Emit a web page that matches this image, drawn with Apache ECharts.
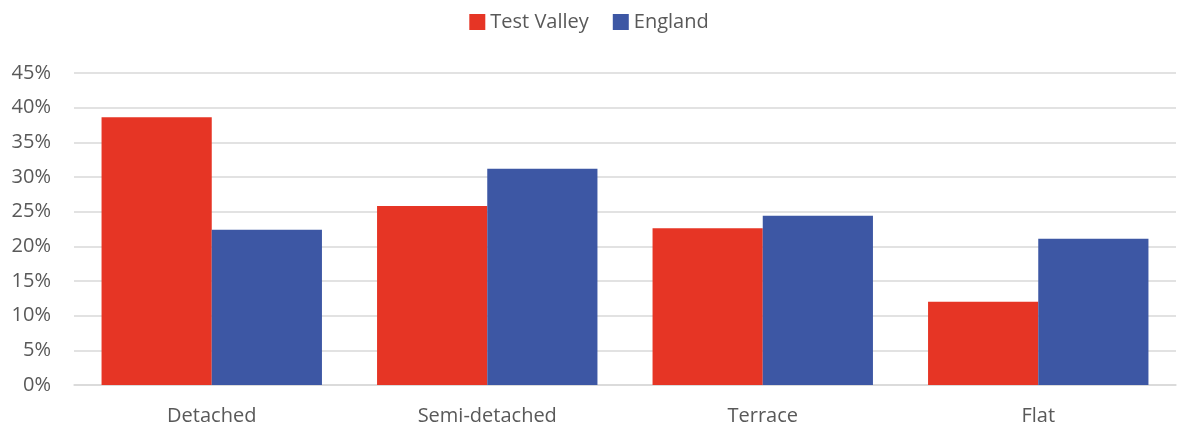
<!DOCTYPE html>
<html>
<head>
<meta charset="utf-8">
<script src="https://cdn.jsdelivr.net/npm/echarts@6/dist/echarts.min.js"></script>
<style>
  html, body { margin: 0; padding: 0; background: #fff; }
  #chart { width: 1178px; height: 430px; }
</style>
</head>
<body>
<div id="chart"></div>
<script>
  const categories = ['Detached', 'Semi-detached', 'Terrace', 'Flat'];
  const testValley = [38.6, 25.8, 22.6, 12.0];
  const england = [22.4, 31.2, 24.4, 21.1];

  const FONT = '"Open Sans", "Noto Sans", sans-serif';
  const TEXT = '#595959';

  const chart = echarts.init(document.getElementById('chart'));
  chart.setOption({
    animation: false,
    textStyle: { fontFamily: FONT },
    legend: {
      top: 7,
      left: 'center',
      itemWidth: 16,
      itemHeight: 16,
      itemGap: 24,
      icon: 'rect',
      textStyle: { fontSize: 20, color: TEXT, fontFamily: FONT },
      data: ['Test Valley', 'England']
    },
    grid: { left: 74, right: 2, top: 73, bottom: 45, containLabel: false },
    xAxis: {
      type: 'category',
      data: categories,
      axisLine: { show: true, lineStyle: { color: '#d9d9d9', width: 1.5 } },
      axisTick: { show: false },
      axisLabel: { fontSize: 20, color: TEXT, margin: 21, fontFamily: FONT }
    },
    yAxis: {
      type: 'value',
      min: 0,
      max: 45,
      interval: 5,
      axisLine: { show: false },
      axisTick: { show: false },
      axisLabel: { fontSize: 20, color: TEXT, margin: 23, formatter: v => v + '%', fontFamily: FONT },
      splitLine: { lineStyle: { color: '#d9d9d9', width: 1.5 } }
    },
    series: [
      {
        name: 'Test Valley',
        type: 'bar',
        data: testValley,
        barGap: '0%',
        barCategoryGap: '20%',
        itemStyle: { color: '#E63525' }
      },
      {
        name: 'England',
        type: 'bar',
        data: england,
        itemStyle: { color: '#3D57A4' }
      }
    ]
  });
</script>
</body>
</html>
